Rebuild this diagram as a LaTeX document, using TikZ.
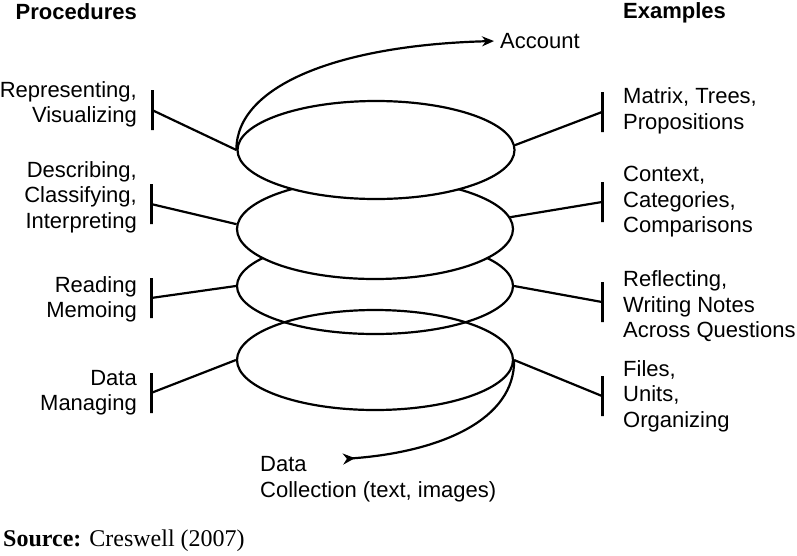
\documentclass[tikz,border=0pt]{standalone}
\usepackage{fontspec}
\setmainfont{Liberation Sans}
\newfontfamily\srcfont{Liberation Serif}
\usetikzlibrary{shapes.geometric,arrows.meta}
\begin{document}
\begin{tikzpicture}[x=1pt,y=-1pt,
  txt/.style={inner sep=0pt, font=\fontsize{22}{25.5}\selectfont},
  ltxt/.style={txt, align=right, anchor=north east},
  rtxt/.style={txt, align=left, anchor=north west},
  headtxt/.style={inner sep=0pt, font=\fontsize{22}{26}\selectfont\bfseries},
  ring/.style={ellipse, draw, line width=2.2pt, inner sep=0pt},
  vbar/.style={draw, line width=3pt, minimum width=0pt, minimum height=40pt, inner sep=0pt},
  link/.style={line width=2.2pt},
]
\useasboundingbox (0,0) rectangle (797,555);

% spiral rings (drawn bottom-up so upper rings hide the parts behind them)
\node[ring, minimum width=276pt, minimum height=96pt] (e3) at (375,286) {};
\node[ring, minimum width=276pt, minimum height=100pt] (e4) at (375,360) {};
\node[ring, fill=white, minimum width=276pt, minimum height=100pt] (e2) at (375,229) {};
\node[ring, fill=white, minimum width=277pt, minimum height=98pt] (e1) at (376,150) {};

% headings
\node[headtxt, anchor=base east] (proc) at (137,19.5) {Procedures};
\node[headtxt, anchor=base west] (exam) at (623,18.5) {Examples};

% left texts
\node[ltxt] (l1) at (137,79.15) {\strut Representing,\\Visualizing};
\node[ltxt] (l2) at (137,159.15) {\strut Describing,\\Classifying,\\Interpreting};
\node[ltxt] (l3) at (137,274.15) {\strut Reading\\Memoing};
\node[ltxt] (l4) at (137,367.15) {\strut Data\\Managing};

% right texts
\node[rtxt] (r1) at (623,85.45) {\strut Matrix, Trees,\\Propositions};
\node[rtxt] (r2) at (623,163.85) {\strut Context,\\Categories,\\Comparisons};
\node[rtxt] (r3) at (623,268.85) {\strut Reflecting,\\Writing Notes\\Across Questions};
\node[rtxt] (r4) at (623,358.15) {\strut Files,\\Units,\\Organizing};

% bars
\node[vbar] (lb1) at (152,110) {};
\node[vbar] (lb2) at (151,204) {};
\node[vbar] (lb3) at (151,298) {};
\node[vbar] (lb4) at (151,393) {};
\node[vbar] (rb1) at (602,112) {};
\node[vbar] (rb2) at (602,202) {};
\node[vbar] (rb3) at (602,302) {};
\node[vbar] (rb4) at (602,396) {};

% connectors
\draw[link] (lb1.center) -- (e1.west);
\draw[link] (lb2.center) -- (e2.178);
\draw[link] (lb3.center) -- (e3.west);
\draw[link] (lb4.center) -- (e4.west);
\draw[link] (e1.2) -- (rb1.center);
\draw[link] (e2.5) -- (rb2.center);
\draw[link] (e3.east) -- (rb3.center);
\draw[link] (e4.east) -- (rb4.center);

% account arrow
\node[txt, anchor=base west] (acc) at (500,48.5) {Account};
\draw[link, -{Stealth[length=12pt,width=10pt]}] (e1.west) .. controls (236,85) and (340,45) .. ([xshift=-6pt]acc.west);

% data collection tail
\node[rtxt] (dc) at (260,453.85) {\strut Data\\Collection (text, images)};
\coordinate (tail) at (343,459);
\draw[link, {Stealth[reversed,length=12pt,width=11pt]}-] (tail) .. controls (440,452) and (515,420) .. (e4.east);

% source
\node[inner sep=0pt, anchor=base west, font=\srcfont\fontsize{24}{28}\selectfont] (src) at (3,546) {\textbf{Source:} Creswell (2007)};
\end{tikzpicture}
\end{document}
